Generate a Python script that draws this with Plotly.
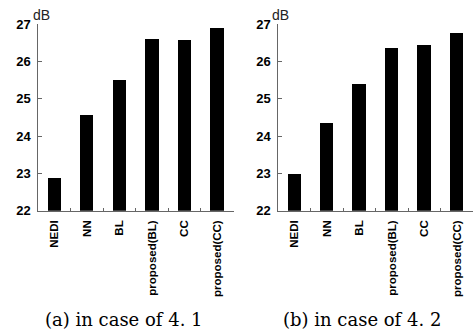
import plotly.graph_objects as go

categories = ["NEDI", "NN", "BL", "proposed(BL)", "CC", "proposed(CC)"]
values_a = [22.88, 24.56, 25.50, 26.60, 26.58, 26.88]
values_b = [22.98, 24.34, 25.40, 26.35, 26.43, 26.77]
y_ticks = [22, 23, 24, 25, 26, 27]
captions = ["(a) in case of 4. 1", "(b) in case of 4. 2"]
unit = "dB"

W, H = 475, 331
fig = go.Figure()
fig.add_trace(go.Bar(x=categories, y=values_a, marker=dict(color="black", line=dict(width=0)),
                     width=0.41, xaxis="x", yaxis="y", showlegend=False))
fig.add_trace(go.Bar(x=categories, y=values_b, marker=dict(color="black", line=dict(width=0)),
                     width=0.41, xaxis="x2", yaxis="y2", showlegend=False))

tickfont = dict(family="Liberation Sans Narrow, Arial Narrow, Liberation Sans", size=13, color="black", weight="bold")
catfont = dict(family="Liberation Sans, Arial", size=11.5, color="black", weight="bold")
axcol = "#666666"

ydom = [(H - 210.7) / H, (H - 24) / H]
common_x = dict(showline=True, linecolor=axcol, linewidth=1, ticks="inside", ticklen=3, tickcolor=axcol,
                tickson="boundaries", tickangle=-90, tickfont=catfont, showgrid=False, zeroline=False,
                fixedrange=True, range=[-0.5, 5.5], automargin=False, ticklabelstandoff=4)
common_y = dict(showline=True, linecolor=axcol, linewidth=1, ticks="inside", ticklen=4, tickcolor=axcol,
                range=[22, 27], tickvals=y_ticks, tickfont=tickfont, showgrid=False, zeroline=False,
                domain=ydom, ticklabelstandoff=4, automargin=False)

fig.update_layout(
    width=W, height=H, margin=dict(l=0, r=0, t=0, b=0),
    paper_bgcolor="white", plot_bgcolor="white", bargap=0,
    xaxis=dict(domain=[38.3 / W, 233.5 / W], anchor="y", **common_x),
    yaxis=dict(anchor="x", **common_y),
    xaxis2=dict(domain=[278.3 / W, 473 / W], anchor="y2", **common_x),
    yaxis2=dict(anchor="x2", **common_y),
)

for xc in [41, 280]:
    fig.add_annotation(x=xc / W, y=(H - 15) / H, xref="paper", yref="paper", text=unit, showarrow=False,
                       font=dict(family="Liberation Sans, Arial", size=14, color="#222"),
                       xanchor="center", yanchor="middle")
for xc, cap in zip([124, 361.5], captions):
    fig.add_annotation(x=xc / W, y=(H - 319) / H, xref="paper", yref="paper", text=cap, showarrow=False,
                       font=dict(family="DejaVu Serif, Liberation Serif, serif", size=18, color="black"),
                       xanchor="center", yanchor="middle")

fig.write_html("out.html", config={"displayModeBar": False},
               post_script="document.body.style.margin='0';document.body.style.overflow='hidden';")
